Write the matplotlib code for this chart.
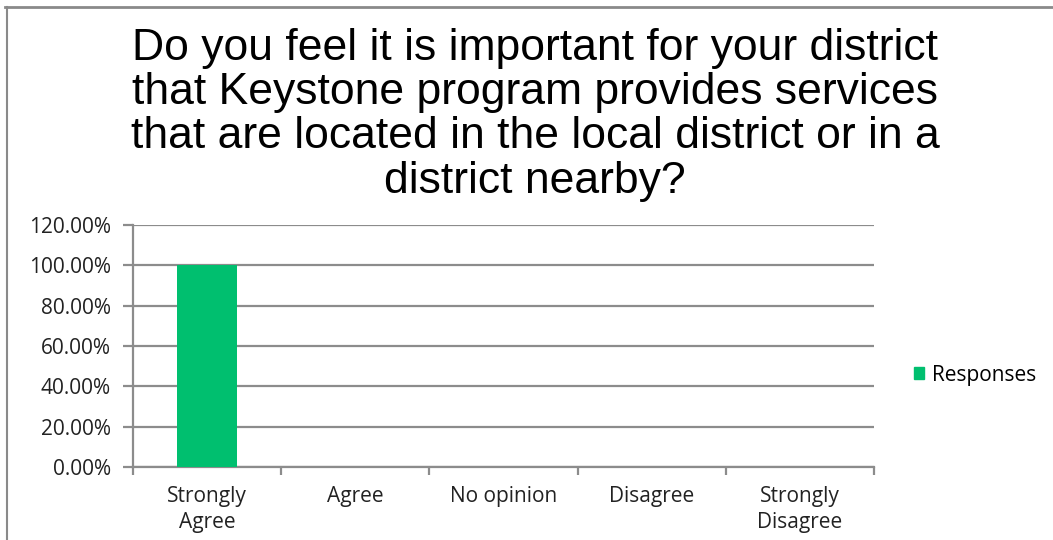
import matplotlib.pyplot as plt
from matplotlib.patches import Patch
from matplotlib.lines import Line2D
from matplotlib.ticker import PercentFormatter

# Survey results
categories = ['Strongly\nAgree', 'Agree', 'No opinion', 'Disagree', 'Strongly\nDisagree']
responses = [100.0, 0.0, 0.0, 0.0, 0.0]
series_name = 'Responses'
title = ('Do you feel it is important for your district\n'
         'that Keystone program provides services\n'
         'that are located in the local district or in a\n'
         'district nearby?')

green = '#00bf6f'
grid_gray = '#8c8c8c'
label_font = ['Open Sans', 'DejaVu Sans']
label_size = 15

fig = plt.figure(figsize=(10.53, 5.40), dpi=100)
ax = fig.add_axes([133 / 1053, 1 - 467 / 540, (874 - 133) / 1053, (467 - 225) / 540])

x = range(len(categories))
ax.bar(x, responses, width=0.405, color=green, zorder=3, label=series_name)

ax.set_xlim(-0.5, len(categories) - 0.5)
ax.set_ylim(0, 120)
ax.set_yticks(range(0, 121, 20))
ax.yaxis.set_major_formatter(PercentFormatter(decimals=2))
ax.grid(axis='y', color=grid_gray, linewidth=1.6, zorder=0)

# category labels between boundary ticks
ax.set_xticks([i - 0.5 for i in range(len(categories) + 1)])
ax.set_xticklabels([])
ax.set_xticks(list(x), minor=True)
ax.set_xticklabels(categories, minor=True, fontsize=label_size, family=label_font,
                   color='#222222', linespacing=1.3)
ax.tick_params(axis='x', which='minor', length=0, pad=14)
ax.tick_params(axis='x', which='major', length=6, width=1.6, color=grid_gray)
ax.tick_params(axis='y', length=7, width=1.6, color=grid_gray, pad=9)
for lbl in ax.get_yticklabels():
    lbl.set_family(label_font)
    lbl.set_fontsize(label_size)
    lbl.set_color('#222222')

for side in ['top', 'right']:
    ax.spines[side].set_visible(False)
for side in ['left', 'bottom']:
    ax.spines[side].set_color(grid_gray)
    ax.spines[side].set_linewidth(1.6)

fig.text(535 / 1053, 1 - 28 / 540, title, ha='center', va='top', fontsize=32,
         family='Liberation Sans', linespacing=1.1)

leg = fig.legend(handles=[Patch(color=green, label=series_name)],
                 loc='center left', bbox_to_anchor=(895 / 1053, 1 - 375 / 540),
                 frameon=False, handlelength=0.5, handleheight=0.5,
                 handletextpad=0.4, prop={'family': label_font, 'size': label_size})

# chart frame along the top and left edges
fig.add_artist(Line2D([5 / 1053, 1], [1 - 7 / 540, 1 - 7 / 540],
                      transform=fig.transFigure, color='#8a8a8a', linewidth=2))
fig.add_artist(Line2D([7 / 1053, 7 / 1053], [0, 1 - 7 / 540],
                      transform=fig.transFigure, color='#8a8a8a', linewidth=1.5))

fig.savefig('out.png', dpi=100)
